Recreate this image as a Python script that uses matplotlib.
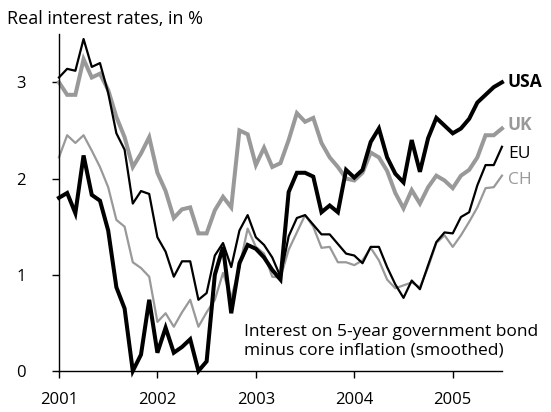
import matplotlib.pyplot as plt
import numpy as np

plt.rcParams["font.family"] = ["Open Sans", "DejaVu Sans"]

# monthly observations, Jan 2001 .. Jul 2005
start_year = 2001
years = [2001, 2002, 2003, 2004, 2005]

usa = [1.80, 1.85, 1.64, 2.24, 1.83, 1.77, 1.46, 0.87, 0.65, 0.00,
       0.17, 0.74, 0.19, 0.45, 0.19, 0.25, 0.33, 0.00, 0.10, 1.00,
       1.29, 0.60, 1.12, 1.31, 1.27, 1.18, 1.05, 0.95, 1.86, 2.06,
       2.06, 2.02, 1.65, 1.72, 1.65, 2.09, 2.01, 2.09, 2.38, 2.52,
       2.22, 2.05, 1.96, 2.40, 2.07, 2.42, 2.63, 2.55, 2.47, 2.52,
       2.62, 2.79, 2.87, 2.95, 3.00]

uk = [3.00, 2.87, 2.87, 3.24, 3.05, 3.09, 2.92, 2.64, 2.43, 2.12,
      2.26, 2.43, 2.06, 1.87, 1.59, 1.68, 1.70, 1.43, 1.43, 1.67,
      1.81, 1.70, 2.50, 2.46, 2.14, 2.32, 2.12, 2.16, 2.40, 2.68,
      2.59, 2.63, 2.37, 2.22, 2.12, 2.00, 1.98, 2.06, 2.27, 2.22,
      2.08, 1.85, 1.69, 1.88, 1.74, 1.91, 2.03, 1.98, 1.90, 2.03,
      2.09, 2.22, 2.45, 2.45, 2.52]

eu = [3.05, 3.14, 3.12, 3.45, 3.16, 3.20, 2.89, 2.47, 2.30, 1.74,
      1.87, 1.84, 1.39, 1.24, 0.98, 1.14, 1.14, 0.74, 0.81, 1.20,
      1.33, 1.08, 1.46, 1.62, 1.39, 1.31, 1.18, 0.98, 1.40, 1.59,
      1.62, 1.52, 1.42, 1.42, 1.32, 1.22, 1.20, 1.12, 1.29, 1.29,
      1.08, 0.90, 0.76, 0.94, 0.85, 1.10, 1.34, 1.44, 1.43, 1.60,
      1.65, 1.93, 2.14, 2.14, 2.33]

ch = [2.22, 2.45, 2.37, 2.45, 2.29, 2.12, 1.91, 1.57, 1.50, 1.13,
      1.07, 0.98, 0.51, 0.60, 0.46, 0.61, 0.74, 0.46, 0.61, 0.74,
      1.02, 0.76, 1.08, 1.48, 1.29, 1.22, 0.98, 0.97, 1.26, 1.44,
      1.62, 1.50, 1.28, 1.29, 1.13, 1.13, 1.10, 1.15, 1.28, 1.15,
      0.95, 0.86, 0.89, 0.92, 0.87, 1.08, 1.33, 1.41, 1.29, 1.41,
      1.55, 1.70, 1.90, 1.91, 2.03]

GREY = "#999999"

t = start_year + np.arange(len(usa)) / 12

fig = plt.figure(figsize=(5.51, 4.12), dpi=100)
ax = fig.add_axes([0.107, 0.0995, 0.804, 0.8175])

ax.plot(t, uk, color=GREY, lw=2.9, clip_on=False, solid_joinstyle="miter")
ax.plot(t, ch, color=GREY, lw=1.6, clip_on=False)
ax.plot(t, usa, color="black", lw=2.9, clip_on=False, solid_joinstyle="miter")
ax.plot(t, eu, color="black", lw=1.6, clip_on=False)

ax.set_xlim(2001, 2005.5)
ax.set_ylim(0, 3.5)
ax.set_xticks(years)
ax.set_xticklabels([str(y) for y in years])
ax.set_yticks([0, 1, 2, 3])
for side in ("top", "right"):
    ax.spines[side].set_visible(False)
for side in ("left", "bottom"):
    ax.spines[side].set_linewidth(1.0)
ax.tick_params(axis="both", direction="out", length=5, width=1, labelsize=12)
ax.tick_params(axis="y", pad=19)
ax.tick_params(axis="x", pad=10)

fig.text(0.013, 0.955, "Real interest rates, in %", fontsize=13, va="center")

label_x = 2005.56
ax.text(label_x, 3.0, "USA", fontsize=12.5, fontweight="bold", color="black", va="center")
ax.text(label_x, 2.56, "UK", fontsize=12.5, fontweight="bold", color=GREY, va="center")
ax.text(label_x, 2.26, "EU", fontsize=12.5, color="black", va="center")
ax.text(label_x, 1.99, "CH", fontsize=12.5, color=GREY, va="center")

ax.text(2002.88, 0.31, "Interest on 5-year government bond\nminus core inflation (smoothed)",
        fontsize=12.5, va="center", linespacing=1.2)

fig.savefig("out.png", dpi=100)
